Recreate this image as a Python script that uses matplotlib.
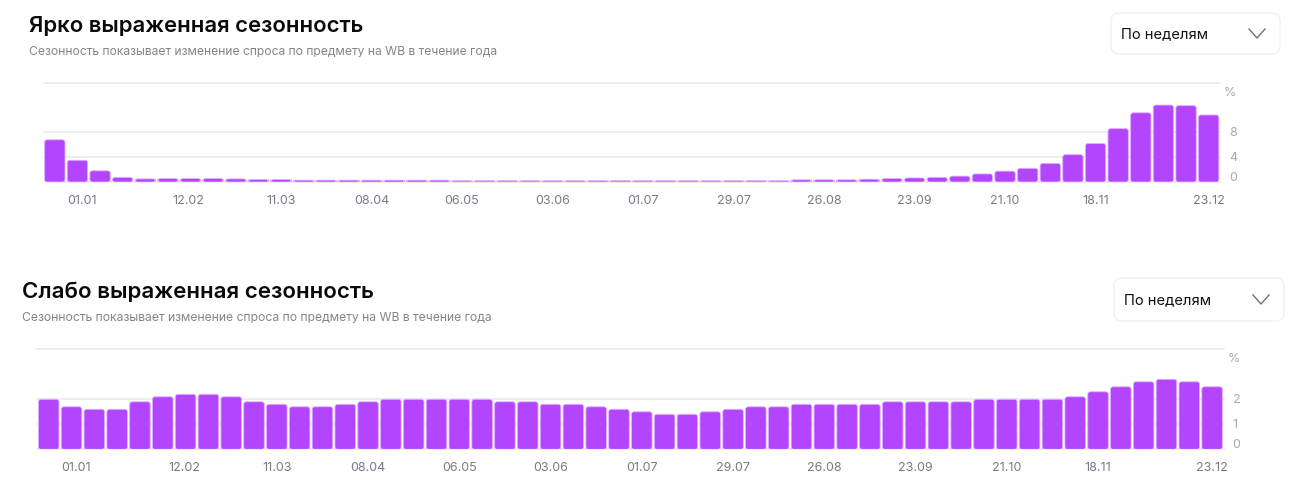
import matplotlib
matplotlib.use('Agg')
import matplotlib.pyplot as plt
from matplotlib.patches import FancyBboxPatch

W, H = 1312, 497
PURPLE = '#b345ff'
EDGE = '#dcb0ff'
GRID = '#e8e8ea'
LABEL = '#7f7688'
PCT = '#a9a9ad'

plt.rcParams['font.family'] = ['Inter', 'DejaVu Sans']

# weekly values, %
strong = [6.8, 3.5, 1.8, 0.75, 0.5, 0.55, 0.55, 0.55, 0.5, 0.4, 0.4, 0.3, 0.3,
          0.3, 0.3, 0.3, 0.3, 0.3, 0.2, 0.2, 0.2, 0.2, 0.2, 0.2, 0.2, 0.2,
          0.2, 0.2, 0.2, 0.2, 0.2, 0.2, 0.2, 0.35, 0.35, 0.35, 0.45, 0.55,
          0.65, 0.75, 0.95, 1.3, 1.75, 2.2, 3.0, 4.4, 6.2, 8.6, 11.15, 12.4,
          12.3, 10.8]
weak = [2.0, 1.7, 1.6, 1.6, 1.9, 2.1, 2.2, 2.2, 2.1, 1.9, 1.8, 1.7, 1.7, 1.8,
        1.9, 2.0, 2.0, 2.0, 2.0, 2.0, 1.9, 1.9, 1.8, 1.8, 1.7, 1.6, 1.5, 1.4,
        1.4, 1.5, 1.6, 1.7, 1.7, 1.8, 1.8, 1.8, 1.8, 1.9, 1.9, 1.9, 1.9, 2.0,
        2.0, 2.0, 2.0, 2.1, 2.3, 2.5, 2.7, 2.8, 2.7, 2.5]

date_labels = ['01.01', '12.02', '11.03', '08.04', '06.05', '03.06', '01.07',
               '29.07', '26.08', '23.09', '21.10', '18.11', '23.12']
date_pos_top = [1.2, 5.9, 10, 14, 18, 22, 26, 30, 34, 38, 42, 46, 51]
date_pos_bottom = [1.2, 5.95, 10, 14, 18, 22, 26, 30, 34, 38, 42, 46, 51]

title_top = 'Ярко выраженная сезонность'
title_bottom = 'Слабо выраженная сезонность'
subtitle = 'Сезонность показывает изменение спроса по предмету на WB в течение года'
dropdown = 'По неделям'


def px_axes(fig, left, top, right, bottom):
    return fig.add_axes([left / W, 1 - bottom / H, (right - left) / W, (bottom - top) / H])


def draw_chart(fig, box, values, ymax, yticks, date_pos, label_y):
    ax = px_axes(fig, *box)
    ax.set_xlim(-0.5, 51.5)
    ax.set_ylim(0, ymax)
    ax.set_facecolor('none')
    for s in ax.spines.values():
        s.set_visible(False)
    ax.tick_params(length=0)
    ax.set_yticks([])
    ax.set_xticks([])

    for v in [ymax] + yticks:
        ax.axhline(v, color=GRID, lw=1.1, zorder=1, clip_on=False)

    # px sizes -> data units, for the rounded bar corners
    px_x = 52 / (box[2] - box[0])
    px_y = ymax / (box[3] - box[1])
    aspect = px_y / px_x
    bars = ax.bar(range(len(values)), values, width=0.9, alpha=0)
    for b in bars:
        r = min(2.5 * px_x, b.get_height() / aspect)
        ax.add_patch(FancyBboxPatch(
            (b.get_x(), 0), b.get_width(), b.get_height(),
            boxstyle=f'round,pad=0,rounding_size={r}', mutation_aspect=aspect,
            fc=PURPLE, ec=EDGE, lw=0.6, zorder=2))

    # labels sit a bit off the gridlines in the original, 0 most of all
    for v in yticks:
        dy = 4 if v == 0 else -1
        ax.annotate(str(v), xy=(1, v), xycoords=ax.get_yaxis_transform(),
                    xytext=(9, dy), textcoords='offset pixels', va='center',
                    ha='left', fontsize=9, color=PCT)
    for x, lab in zip(date_pos, date_labels):
        ax.annotate(lab, xy=(x, 0), xycoords=ax.get_xaxis_transform(),
                    xytext=(0, box[3] - label_y), textcoords='offset pixels',
                    ha='center', va='center', fontsize=9, color=LABEL)
    return ax


def draw_header(ov, x, title, title_y, title_size, sub_y, sub_size, dd):
    ov.text(x, title_y, title, fontsize=title_size, fontweight='semibold',
            color='#0a0a0a', va='center', ha='left')
    ov.text(x, sub_y, subtitle, fontsize=sub_size, color='#84848f', va='center', ha='left')
    x0, y0, x1, y1 = dd
    ov.add_patch(FancyBboxPatch((x0, y0), x1 - x0, y1 - y0,
                                boxstyle='round,pad=0,rounding_size=8',
                                fc='white', ec='#f0f0f3', lw=1))
    ov.text(x0 + 10, (y0 + y1) / 2 + 1, dropdown, fontsize=10.6, color='#111111',
            va='center', ha='left')
    cx = x1 - 23
    cy = (y0 + y1) / 2
    ov.plot([cx - 8, cx, cx + 8], [cy - 4.5, cy + 4.5, cy - 4.5], color='#6f6f80', lw=1)


fig = plt.figure(figsize=(W / 100, H / 100), dpi=100, facecolor='white')

draw_chart(fig, (43.5, 82.7, 1220, 182), strong, 16, [8, 4, 0], date_pos_top, 201)
draw_chart(fig, (37.3, 349.3, 1223.5, 449.3), weak, 4, [2, 1, 0], date_pos_bottom, 468)

# overlay in image pixels for the header text and the dropdowns
ov = fig.add_axes([0, 0, 1, 1], zorder=5)
ov.set_xlim(0, W)
ov.set_ylim(H, 0)
ov.axis('off')
ov.patch.set_alpha(0)

draw_header(ov, 29, title_top, 26, 15.9, 52, 8.74, (1111, 13, 1280, 54))
draw_header(ov, 22, title_bottom, 292, 16.05, 318, 8.76, (1114, 278, 1284, 321))
ov.text(1224, 93, '%', fontsize=9, color=PCT, va='center')
ov.text(1228, 359.5, '%', fontsize=9, color=PCT, va='center')

fig.savefig('out.png', dpi=100)
